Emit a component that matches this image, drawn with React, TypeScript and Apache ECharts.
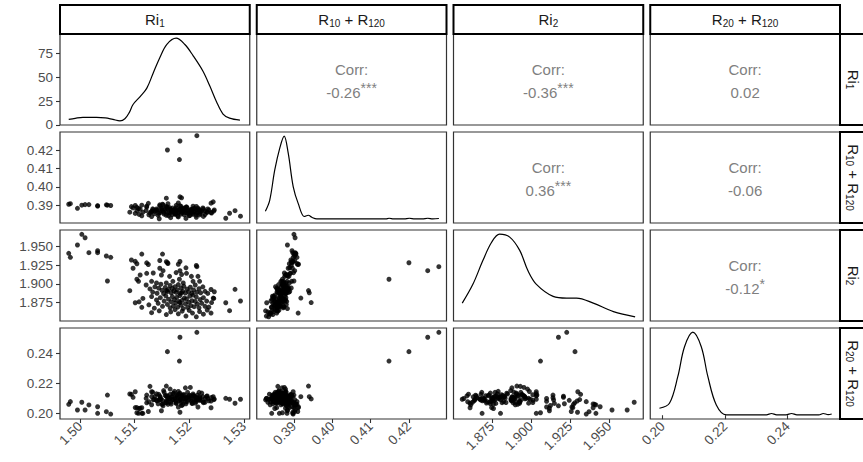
import { useEffect, useRef } from "react";
import * as echarts from "echarts";

const FONT = '"Liberation Sans", Arial, Helvetica, sans-serif';

// Variable names for the strips; {s|..} is a subscript
const varLabels = ["Ri{s|1}", "R{s|10} + R{s|120}", "Ri{s|2}", "R{s|20} + R{s|120}"];

// Axis extents of each variable (data range padded 5% each side)
const varRanges: [number, number][] = [
  [1.4963, 1.5311],
  [0.3803, 0.4298],
  [1.8504, 1.9719],
  [0.196, 0.2568],
];
const varTicks = [
  [1.5, 1.51, 1.52, 1.53],
  [0.39, 0.4, 0.41, 0.42],
  [1.875, 1.9, 1.925, 1.95],
  [0.2, 0.22, 0.24],
];
const varDecimals = [2, 2, 3, 2];
const densityTicks = [0, 25, 50, 75];

// Kernel density estimates on the diagonal: [value, density]
const ri1Density = [
  [1.4979, 5.8], [1.4991, 7.0], [1.5005, 8.0], [1.503, 8.0], [1.5046, 7.4], [1.506, 5.8],
  [1.5073, 4.3], [1.5082, 6.5], [1.509, 13], [1.5097, 21.5], [1.511, 29.8], [1.5122, 38.4],
  [1.5134, 54.6], [1.5146, 70.7], [1.5159, 84.7], [1.5176, 91.2], [1.5192, 84.5],
  [1.5207, 72.9], [1.5225, 56.7], [1.5238, 40.6], [1.525, 24.4], [1.5262, 11.5],
  [1.5274, 7.2], [1.5293, 5.1],
];
const r10Density = [
  [0.38255, 18.8], [0.38368, 43.4], [0.385, 112], [0.38632, 162], [0.38745, 188.6],
  [0.3885, 150.5], [0.38982, 73.9], [0.39113, 35.8], [0.39271, 6.7], [0.39376, 9.6],
  [0.39466, 5.0], [0.39597, 1.4], [0.4, 1.4], [0.405, 1.4], [0.41, 1.4], [0.41395, 1.4],
  [0.41482, 2.8], [0.416, 1.4], [0.41876, 1.4], [0.4201, 2.8], [0.4215, 1.4],
  [0.4235, 1.4], [0.42492, 2.8], [0.4262, 1.4], [0.42782, 2.2],
];
const ri2Density = [
  [1.856, 4.23], [1.8628, 8.39], [1.8692, 13.65], [1.8748, 17.7], [1.8799, 19.5],
  [1.8864, 18.84], [1.8928, 15.9], [1.8981, 11.39], [1.9035, 8.39], [1.9142, 5.74],
  [1.9228, 5.36], [1.9292, 5.36], [1.9399, 4.23], [1.9528, 2.36], [1.9667, 1.2],
];
const r20Density = [
  [0.19894, 10.0], [0.20215, 17.2], [0.20482, 55.6], [0.20698, 98.9], [0.20965, 120],
  [0.21235, 98.9], [0.21447, 55.6], [0.21717, 14.8], [0.22038, 0.5], [0.225, 0.5],
  [0.23, 0.5], [0.23324, 0.5], [0.23485, 2.5], [0.2365, 0.5], [0.2395, 0.5],
  [0.24128, 2.5], [0.243, 0.5], [0.2449, 0.5], [0.248, 0.5], [0.25, 0.5],
  [0.25144, 2.5], [0.253, 0.9], [0.25414, 1.8],
];
const densities = [ri1Density, r10Density, ri2Density, r20Density];

// Pairwise correlations for the upper triangle
const corrCells = [
  { row: 0, col: 1, value: "-0.26", stars: "***" },
  { row: 0, col: 2, value: "-0.36", stars: "***" },
  { row: 0, col: 3, value: "0.02", stars: "" },
  { row: 1, col: 2, value: "0.36", stars: "***" },
  { row: 1, col: 3, value: "-0.06", stars: "" },
  { row: 2, col: 3, value: "-0.12", stars: "*" },
];

// Samples: [Ri1, R10 + R120, Ri2, R20 + R120]
const lowRiSamples = [
  [1.4979, 0.3905, 1.9408, 0.2058], [1.4982, 0.3908, 1.9354, 0.2076],
  [1.4995, 0.3883, 1.9519, 0.202], [1.5003, 0.39, 1.9661, 0.2072],
  [1.5009, 0.3903, 1.9616, 0.202], [1.5016, 0.3903, 1.9416, 0.2054],
  [1.5032, 0.3895, 1.9443, 0.2042], [1.5032, 0.3897, 1.9416, 0.1998],
  [1.505, 0.39, 1.9038, 0.212], [1.5048, 0.3902, 1.9372, 0.2009],
  [1.5056, 0.3898, 1.9354, 0.1993],
];
const highRiSamples = [
  [1.5267, 0.3829, 1.8748, 0.2098], [1.5274, 0.3856, 1.8642, 0.2092],
  [1.5284, 0.387, 1.8927, 0.2065], [1.5294, 0.384, 1.8771, 0.2092],
];
const wideSamples = [
  [1.516, 0.42, 1.9282, 0.241], [1.5182, 0.4148, 1.9061, 0.2347],
  [1.5183, 0.4249, 1.9176, 0.2506], [1.5214, 0.4278, 1.9229, 0.2539],
  [1.5158, 0.3938, 1.891, 0.218], [1.5183, 0.3945, 1.875, 0.2094],
  [1.5186, 0.394, 1.888, 0.2109], [1.5244, 0.3918, 1.881, 0.2109],
];
const upperRi2Samples = [
  [1.5113, 0.39, 1.9398, 0.2035], [1.5151, 0.3905, 1.9398, 0.206],
  [1.5094, 0.3892, 1.9318, 0.2125], [1.5101, 0.3898, 1.93, 0.2142],
  [1.5104, 0.3888, 1.9268, 0.2036], [1.5122, 0.3895, 1.928, 0.2068],
  [1.5125, 0.391, 1.9258, 0.201], [1.5146, 0.3902, 1.9312, 0.209],
  [1.5158, 0.3893, 1.9296, 0.208], [1.5161, 0.3908, 1.9272, 0.2058],
  [1.5183, 0.3897, 1.9298, 0.2005], [1.5194, 0.3889, 1.9214, 0.2062],
  [1.5213, 0.3893, 1.9245, 0.2085], [1.518, 0.3912, 1.9262, 0.204],
  [1.5097, 0.3885, 1.9208, 0.2105], [1.511, 0.3878, 1.9118, 0.2032],
  [1.5104, 0.387, 1.9061, 0.2002], [1.5107, 0.3882, 1.9034, 0.1998],
  [1.5122, 0.389, 1.9141, 0.212], [1.5134, 0.3875, 1.9145, 0.2088],
  [1.5146, 0.3896, 1.9208, 0.2112], [1.5149, 0.3883, 1.9118, 0.2015],
  [1.5164, 0.3887, 1.91, 0.2097], [1.517, 0.3872, 1.9034, 0.213],
  [1.5176, 0.3899, 1.915, 0.2064], [1.5186, 0.388, 1.9125, 0.205],
  [1.5195, 0.3891, 1.9141, 0.2102], [1.5204, 0.3876, 1.91, 0.2078],
  [1.5216, 0.3884, 1.91, 0.204], [1.5219, 0.3869, 1.9034, 0.2092],
  [1.5207, 0.3894, 1.9034, 0.2115], [1.5131, 0.3866, 1.9034, 0.2142],
  [1.514, 0.3879, 1.9012, 0.2085], [1.5158, 0.3888, 1.9012, 0.207],
  [1.5189, 0.3874, 1.9012, 0.2122], [1.5152, 0.3902, 1.9176, 0.2048],
];
const midRi2Samples = [
  [1.5091, 0.3862, 1.8909, 0.2127], [1.5121, 0.3871, 1.8985, 0.2098],
  [1.5128, 0.3858, 1.8932, 0.2178], [1.5133, 0.388, 1.889, 0.214],
  [1.5137, 0.3867, 1.896, 0.211], [1.5141, 0.3874, 1.8875, 0.2082],
  [1.5144, 0.3855, 1.8942, 0.2125], [1.5148, 0.3869, 1.8995, 0.2092],
  [1.515, 0.3883, 1.8915, 0.2058], [1.5153, 0.3861, 1.887, 0.215],
  [1.5156, 0.3876, 1.8952, 0.2117], [1.516, 0.3889, 1.8898, 0.21],
  [1.5162, 0.3857, 1.8925, 0.2072], [1.5165, 0.3878, 1.8978, 0.216],
  [1.5167, 0.3865, 1.888, 0.2106], [1.5169, 0.3884, 1.8938, 0.2089],
  [1.5172, 0.3871, 1.8905, 0.2133], [1.5174, 0.3852, 1.8962, 0.2095],
  [1.5176, 0.3886, 1.8886, 0.2068], [1.5178, 0.3874, 1.892, 0.2112],
  [1.518, 0.386, 1.899, 0.2144], [1.5183, 0.3879, 1.8872, 0.2087],
  [1.5185, 0.3893, 1.8945, 0.2121], [1.5188, 0.3866, 1.89, 0.2055],
  [1.519, 0.3881, 1.8968, 0.2098], [1.5193, 0.3869, 1.8878, 0.2168],
  [1.5196, 0.3887, 1.893, 0.2076], [1.5199, 0.3856, 1.8895, 0.2108],
  [1.5202, 0.3875, 1.8955, 0.2171], [1.5205, 0.3863, 1.8875, 0.209],
  [1.5208, 0.3882, 1.8918, 0.2118], [1.5211, 0.387, 1.8985, 0.2066],
  [1.5214, 0.3858, 1.8888, 0.2102], [1.5218, 0.3877, 1.8935, 0.2138],
  [1.5221, 0.3864, 1.888, 0.2084], [1.5225, 0.3885, 1.896, 0.211],
  [1.5229, 0.3868, 1.89, 0.2072], [1.5234, 0.3879, 1.8872, 0.2097],
  [1.524, 0.386, 1.8925, 0.208], [1.5246, 0.3874, 1.8895, 0.2093],
];
const lowerRi2Samples = [
  [1.5101, 0.3855, 1.8748, 0.2036], [1.5113, 0.3842, 1.8687, 0.1998],
  [1.5108, 0.385, 1.876, 0.203], [1.5115, 0.3862, 1.8805, 0.1998],
  [1.5126, 0.3848, 1.872, 0.2075], [1.5131, 0.3866, 1.883, 0.211],
  [1.5136, 0.3853, 1.8675, 0.2092], [1.514, 0.3871, 1.8785, 0.2128],
  [1.5143, 0.3845, 1.874, 0.2062], [1.5147, 0.386, 1.8815, 0.2104],
  [1.5151, 0.3874, 1.87, 0.2085], [1.5154, 0.3851, 1.877, 0.2138],
  [1.5157, 0.3866, 1.884, 0.207], [1.516, 0.388, 1.8725, 0.2115],
  [1.5162, 0.3843, 1.8795, 0.2095], [1.5165, 0.3858, 1.868, 0.2125],
  [1.5167, 0.3872, 1.876, 0.206], [1.5169, 0.3849, 1.883, 0.2108],
  [1.5171, 0.3864, 1.8705, 0.209], [1.5173, 0.3878, 1.879, 0.2145],
  [1.5175, 0.3855, 1.8745, 0.2078], [1.5177, 0.3868, 1.882, 0.2118],
  [1.5179, 0.3841, 1.869, 0.21], [1.5181, 0.3862, 1.8765, 0.2083],
  [1.5183, 0.3876, 1.8845, 0.2132], [1.5185, 0.3852, 1.8715, 0.2067],
  [1.5187, 0.3866, 1.878, 0.2112], [1.5189, 0.3883, 1.867, 0.2094],
  [1.5191, 0.3847, 1.881, 0.2122], [1.5193, 0.386, 1.8735, 0.2073],
  [1.5195, 0.3873, 1.88, 0.2105], [1.5197, 0.3856, 1.8685, 0.2138],
  [1.5199, 0.3869, 1.8755, 0.2088], [1.5201, 0.3844, 1.8835, 0.2099],
  [1.5203, 0.3863, 1.871, 0.2116], [1.5205, 0.3877, 1.8775, 0.2064],
  [1.5207, 0.385, 1.885, 0.2127], [1.5209, 0.3865, 1.8695, 0.2091],
  [1.5211, 0.3881, 1.8765, 0.2109], [1.5213, 0.3846, 1.8825, 0.2077],
  [1.5215, 0.3859, 1.873, 0.212], [1.5218, 0.3872, 1.868, 0.2086],
  [1.522, 0.3854, 1.879, 0.2101], [1.5223, 0.3867, 1.874, 0.2133],
  [1.5226, 0.3879, 1.8815, 0.2069], [1.5229, 0.3849, 1.87, 0.2096],
  [1.5232, 0.3862, 1.877, 0.2111], [1.5236, 0.3874, 1.869, 0.2082],
  [1.5241, 0.3857, 1.875, 0.2104], [1.5245, 0.3868, 1.8805, 0.2089],
  [1.5131, 0.3838, 1.8615, 0.2055], [1.5145, 0.3826, 1.864, 0.2088],
  [1.5158, 0.3845, 1.859, 0.2114], [1.5166, 0.3832, 1.8625, 0.2072],
  [1.5174, 0.3851, 1.8655, 0.2103], [1.518, 0.3836, 1.86, 0.2126],
  [1.5187, 0.3858, 1.8635, 0.2081], [1.5194, 0.3828, 1.857, 0.2097],
  [1.52, 0.3843, 1.8645, 0.2119], [1.5206, 0.3855, 1.861, 0.2065],
  [1.5213, 0.3834, 1.856, 0.2092], [1.5219, 0.3847, 1.863, 0.2108],
  [1.5226, 0.3839, 1.8595, 0.2075], [1.5233, 0.3861, 1.865, 0.2114],
  [1.524, 0.3911, 1.861, 0.2035],
];
const samples = [
  ...lowRiSamples, ...highRiSamples, ...wideSamples,
  ...upperRi2Samples, ...midRi2Samples, ...lowerRi2Samples,
];

// Panel geometry
const PANEL_LEFT = [60, 256.75, 453.5, 650.25];
const PANEL_TOP = [34, 132, 230, 328];
const PANEL_W = 189.75;
const PANEL_H = 91;
const STRIP = 29;

const labelStyle = { color: "#4d4d4d", fontSize: 13.5, fontFamily: FONT };
const tickStyle = { color: "#333333", width: 1.1 };
const CORR_COLOR = "#7f7f7f";

function densityExtent(d: number[][]): [number, number] {
  const ys = d.map((p) => p[1]);
  const lo = Math.min(...ys);
  const hi = Math.max(...ys);
  const pad = (hi - lo) * 0.05;
  return [lo - pad, hi + pad];
}

function buildOption() {
  const grid: any[] = [];
  const xAxis: any[] = [];
  const yAxis: any[] = [];
  const series: any[] = [];
  const graphic: any[] = [];

  let gi = 0;
  for (let r = 0; r < 4; r++) {
    for (let c = 0; c <= r; c++) {
      grid.push({ left: PANEL_LEFT[c], top: PANEL_TOP[r], width: PANEL_W, height: PANEL_H, show: false });
      const bottom = r === 3;
      const left = c === 0;
      xAxis.push({
        gridIndex: gi,
        type: "value",
        min: varRanges[c][0],
        max: varRanges[c][1],
        axisLine: { show: false },
        splitLine: { show: false },
        axisTick: { show: bottom, length: 4, customValues: varTicks[c], lineStyle: tickStyle },
        axisLabel: {
          show: bottom,
          customValues: varTicks[c],
          rotate: 45,
          margin: 5,
          ...labelStyle,
          formatter: (v: number) => v.toFixed(varDecimals[c]),
        },
      });
      if (r === c) {
        const [lo, hi] = densityExtent(densities[c]);
        yAxis.push({
          gridIndex: gi,
          type: "value",
          min: lo,
          max: hi,
          axisLine: { show: false },
          splitLine: { show: false },
          axisTick: { show: left, length: 4, customValues: densityTicks, lineStyle: tickStyle },
          axisLabel: {
            show: left,
            customValues: densityTicks,
            margin: 7,
            ...labelStyle,
            formatter: (v: number) => String(Math.round(v)),
          },
        });
        series.push({
          type: "line",
          xAxisIndex: gi,
          yAxisIndex: gi,
          data: densities[c],
          smooth: 0.35,
          showSymbol: false,
          silent: true,
          lineStyle: { color: "#000000", width: 1.2 },
        });
      } else {
        yAxis.push({
          gridIndex: gi,
          type: "value",
          min: varRanges[r][0],
          max: varRanges[r][1],
          axisLine: { show: false },
          splitLine: { show: false },
          axisTick: { show: left, length: 4, customValues: varTicks[r], lineStyle: tickStyle },
          axisLabel: {
            show: left,
            customValues: varTicks[r],
            margin: 7,
            ...labelStyle,
            formatter: (v: number) => v.toFixed(varDecimals[r]),
          },
        });
        series.push({
          type: "scatter",
          xAxisIndex: gi,
          yAxisIndex: gi,
          data: samples.map((s) => [s[c], s[r]]),
          symbol: "circle",
          symbolSize: 5,
          silent: true,
          itemStyle: { color: "#000000" },
        });
      }
      gi++;
    }
  }

  // panel borders
  for (let r = 0; r < 4; r++) {
    for (let c = 0; c < 4; c++) {
      graphic.push({
        type: "rect",
        z: 50,
        shape: { x: PANEL_LEFT[c], y: PANEL_TOP[r], width: PANEL_W, height: PANEL_H },
        style: { fill: "none", stroke: "#333333", lineWidth: 1.2 },
      });
    }
  }

  const stripRich = {
    s: { fontSize: 10, fontFamily: FONT, fill: "#1a1a1a", padding: [8, 0, 0, 0] },
  };

  // top strips
  for (let c = 0; c < 4; c++) {
    graphic.push({
      type: "rect",
      z: 50,
      shape: { x: PANEL_LEFT[c], y: PANEL_TOP[0] - STRIP, width: PANEL_W, height: STRIP },
      style: { fill: "#ffffff", stroke: "#000000", lineWidth: 2 },
    });
    graphic.push({
      type: "text",
      z: 51,
      x: PANEL_LEFT[c] + PANEL_W / 2,
      y: PANEL_TOP[0] - STRIP / 2,
      style: {
        text: varLabels[c],
        rich: stripRich,
        fontSize: 15,
        fontFamily: FONT,
        fill: "#1a1a1a",
        align: "center",
        verticalAlign: "middle",
      },
    });
  }

  // right strips
  const stripX = PANEL_LEFT[3] + PANEL_W;
  for (let r = 0; r < 4; r++) {
    graphic.push({
      type: "rect",
      z: 50,
      shape: { x: stripX, y: PANEL_TOP[r], width: STRIP, height: PANEL_H },
      style: { fill: "#ffffff", stroke: "#000000", lineWidth: 2 },
    });
    graphic.push({
      type: "text",
      z: 51,
      x: stripX + STRIP / 2 - 1,
      y: PANEL_TOP[r] + PANEL_H / 2,
      rotation: -Math.PI / 2,
      style: {
        text: varLabels[r],
        rich: stripRich,
        fontSize: 15,
        fontFamily: FONT,
        fill: "#1a1a1a",
        align: "center",
        verticalAlign: "middle",
      },
    });
  }

  // correlation text
  for (const cell of corrCells) {
    const cx = PANEL_LEFT[cell.col] + PANEL_W / 2;
    const top = PANEL_TOP[cell.row];
    graphic.push({
      type: "text",
      z: 51,
      x: cx,
      y: top + 35,
      style: { text: "Corr:", fontSize: 15, fontFamily: FONT, fill: CORR_COLOR, align: "center", verticalAlign: "middle" },
    });
    graphic.push({
      type: "text",
      z: 51,
      x: cx,
      y: top + 58,
      style: {
        text: cell.value + (cell.stars ? `{st|${cell.stars}}` : ""),
        rich: { st: { fontSize: 14, fontFamily: FONT, fill: CORR_COLOR, padding: [0, 0, 8, 0] } },
        fontSize: 15,
        fontFamily: FONT,
        fill: CORR_COLOR,
        align: "center",
        verticalAlign: "middle",
      },
    });
  }

  return {
    animation: false,
    backgroundColor: "#ffffff",
    grid,
    xAxis,
    yAxis,
    series,
    graphic,
  };
}

export default function App() {
  const ref = useRef<HTMLDivElement>(null);
  useEffect(() => {
    if (!ref.current) return;
    const chart = echarts.init(ref.current, undefined, { renderer: "svg" });
    chart.setOption(buildOption());
    return () => chart.dispose();
  }, []);
  return (
    <div
      ref={ref}
      style={{ position: "fixed", left: 0, top: 0, width: 863, height: 462, background: "#fff" }}
    />
  );
}
